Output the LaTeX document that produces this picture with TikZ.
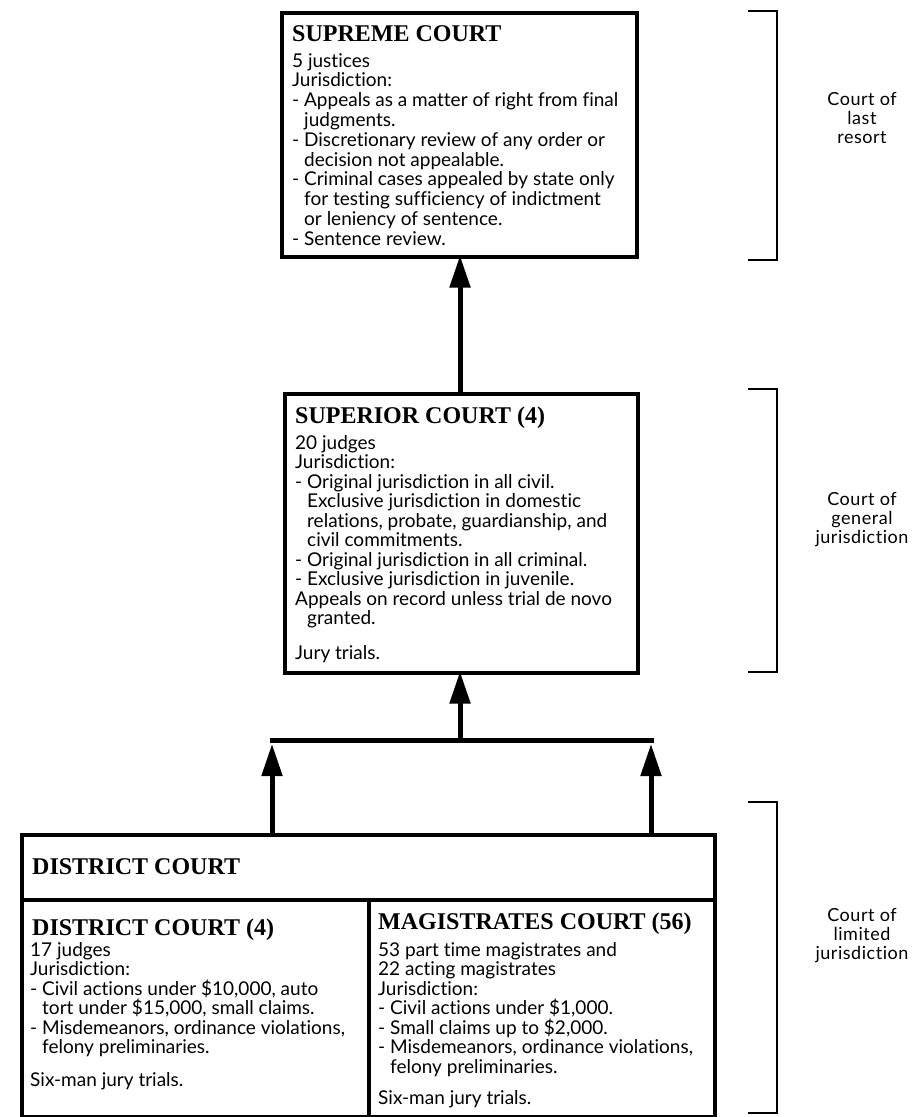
\documentclass[tikz,border=0pt]{standalone}
\usepackage{fontspec}
\setmainfont{Lato}[Ligatures=NoCommon]
\newfontfamily\titlefont{Liberation Serif}
\newfontfamily\labelfont{Lato}[LetterSpace=3,Ligatures=NoCommon]
\usetikzlibrary{arrows.meta}
\newcommand\hangin{\hspace*{12pt}}
\tikzset{
  box/.style={draw, line width=3.5pt, inner sep=0pt, anchor=north west},
  ttl/.style={font=\titlefont\bfseries\fontsize{24}{26}\selectfont, anchor=base west, inner sep=0pt},
  body/.style={font=\fontsize{19}{19.5}\selectfont, align=left, anchor=north west, inner sep=0pt},
  arr/.style={line width=5pt, -{Triangle[length=32pt,width=20pt]}},
  bar/.style={line width=5pt},
  brk/.style={line width=2.5pt},
  lbl/.style={font=\labelfont\fontsize{18}{19}\selectfont, align=center, inner sep=0pt},
}
\begin{document}
\begin{tikzpicture}[x=1pt,y=-1pt]
\useasboundingbox (0,0) rectangle (913,1117);
\fill[white] (0,0) rectangle (913,1117);

% Supreme court
\node[box, minimum width=355pt, minimum height=244pt] (supreme) at (280,11) {};
\node[ttl] (supT) at (292,41) {SUPREME COURT};
\node[body, font=\fontsize{19}{19.8}\selectfont] (supB) at (292,53) {5 justices\\Jurisdiction:\\- Appeals as a matter of right from final\\\hangin judgments.\\- Discretionary review of any order or\\\hangin decision not appealable.\\- Criminal cases appealed by state only\\\hangin for testing sufficiency of indictment\\\hangin or leniency of sentence.\\- Sentence review.};

% Superior court
\node[box, minimum width=353pt, minimum height=279pt] (superior) at (283,392) {};
\node[ttl] (supeT) at (295,423) {SUPERIOR COURT (4)};
\node[body] (supeB) at (295,435) {20 judges\\Jurisdiction:\\- Original jurisdiction in all civil.\\\hangin Exclusive jurisdiction in domestic\\\hangin relations, probate, guardianship, and\\\hangin civil commitments.\\- Original jurisdiction in all criminal.\\- Exclusive jurisdiction in juvenile.\\Appeals on record unless trial de novo\\\hangin granted.\\[15pt]Jury trials.};

% District court
\node[box, minimum width=693pt, minimum height=65pt] (dhead) at (20,833) {};
\node[ttl] (dheadT) at (32,874) {DISTRICT COURT};
\node[box, minimum width=347pt, minimum height=217pt] (dist) at (20,898) {};
\node[box, minimum width=346pt, minimum height=217pt] (mag) at (367,898) {};
\node[ttl] (distT) at (32,935) {DISTRICT COURT (4)};
\node[body] (distB) at (30,942) {17 judges\\Jurisdiction:\\- Civil actions under \$10,000, auto\\\hangin tort under \$15,000, small claims.\\- Misdemeanors, ordinance violations,\\\hangin felony preliminaries.\\[13pt]Six-man jury trials.};
\node[ttl] (magT) at (378,929) {MAGISTRATES COURT (56)};
\node[body] (magB) at (378,942) {53 part time magistrates and\\22 acting magistrates\\Jurisdiction:\\- Civil actions under \$1,000.\\- Small claims up to \$2,000.\\- Misdemeanors, ordinance violations,\\\hangin felony preliminaries.\\[12pt]Six-man jury trials.};

% Connectors
\coordinate (jl) at (272,740);
\coordinate (jm) at (460,740);
\coordinate (jr) at (651,740);
\draw[bar] ([xshift=-2.5pt]jl) -- ([xshift=2.5pt]jr);
\draw[arr] (dhead.north -| jl) -- ([yshift=-4pt]jl);
\draw[arr] (dhead.north -| jr) -- ([yshift=-4pt]jr);
\draw[arr] (jm) -- ([yshift=3pt]jm |- superior.south);
\draw[arr] (superior.north -| jm) -- ([yshift=3pt]jm |- supreme.south);

% Brackets
\draw[brk] (748,11) -- (777,11) -- (777,260) -- (748,260);
\draw[brk] (748,389) -- (777,389) -- (777,672) -- (748,672);
\draw[brk] (748,802) -- (777,802) -- (777,1113) -- (748,1113);
\node[lbl] (l1) at (862,118) {Court of\\last\\resort};
\node[lbl] (l2) at (862,520) {Court of\\general\\jurisdiction};
\node[lbl] (l3) at (862,936) {Court of\\limited\\jurisdiction};
\end{tikzpicture}
\end{document}
